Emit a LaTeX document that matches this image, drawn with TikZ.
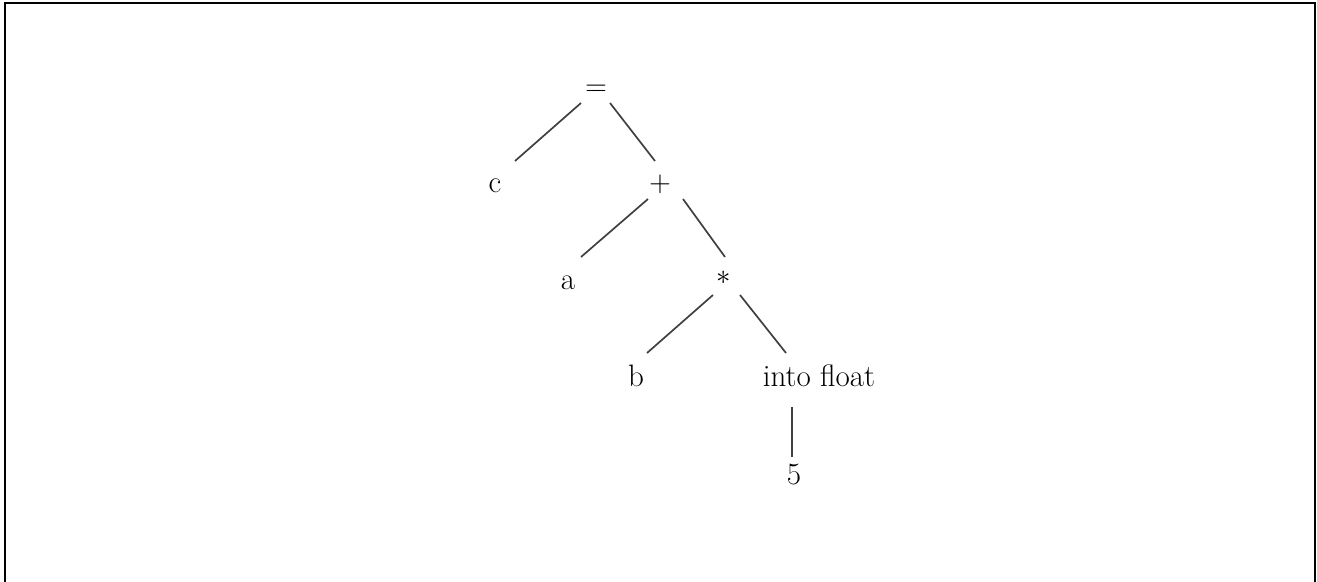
\documentclass[tikz,border=0pt]{standalone}
\usetikzlibrary{calc}
\begin{document}
\begin{tikzpicture}[x=0.5pt,y=-0.5pt,
  lbl/.style={anchor=base,inner sep=0pt,font=\fontsize{15.5}{18}\selectfont,text=black},
  edge/.style={line width=0.85pt,draw=black!75}]
\useasboundingbox (0,0) rectangle (1317,582);
% frame
\begin{scope}
\clip (0,0) rectangle (1317,582);
\draw[line width=1pt] (5,600) -- (5,3.5) -- (1315,3.5) -- (1315,600);
\end{scope}
% tree nodes
\node[lbl] (eq)   at (596,96)  {$=$};
\node[lbl] (c)    at (495,193) {c};
\node[lbl] (plus) at (660,192) {$+$};
\node[lbl] (a)    at (568,290) {a};
\node[lbl] (ast)  at (724,285) {$*$};
\node[lbl] (b)    at (636,387) {b};
\node[lbl] (conv) at (819,387) {into float};
\node[lbl] (five) at (794,485) {5};
% branches
\draw[edge] ($(eq.base)+(-15,7)$)   -- ($(c.base)+(20,-32)$);
\draw[edge] ($(eq.base)+(14,7)$)    -- ($(plus.base)+(-5,-31)$);
\draw[edge] ($(plus.base)+(-12,7)$) -- ($(a.base)+(13,-33)$);
\draw[edge] ($(plus.base)+(23,7)$)  -- ($(ast.base)+(1,-28)$);
\draw[edge] ($(ast.base)+(-11,10)$) -- ($(b.base)+(11,-34)$);
\draw[edge] ($(ast.base)+(16,10)$)  -- ($(conv.base)+(-33,-34)$);
\draw[edge] ($(conv.base)+(-27,20)$) -- ($(five.base)+(-2,-28)$);
\end{tikzpicture}
\end{document}
